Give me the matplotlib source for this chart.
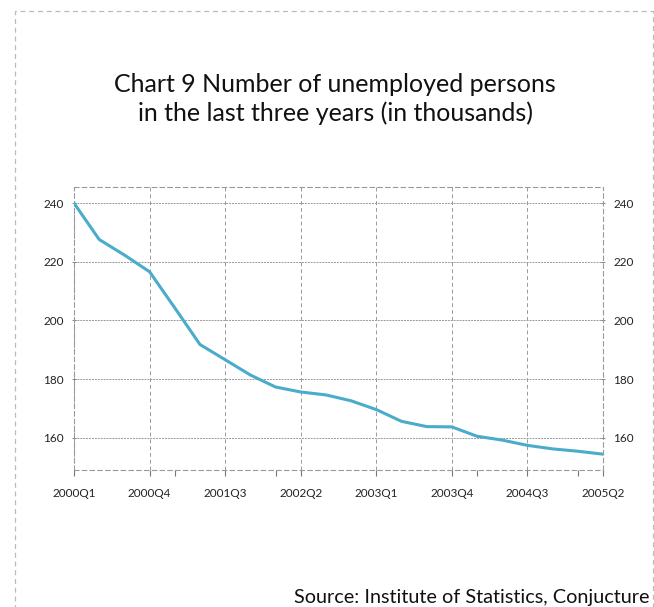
import matplotlib.pyplot as plt
from matplotlib.patches import Rectangle

quarters = ['2000Q1', '2000Q2', '2000Q3', '2000Q4', '2001Q1', '2001Q2', '2001Q3', '2001Q4',
            '2002Q1', '2002Q2', '2002Q3', '2002Q4', '2003Q1', '2003Q2', '2003Q3', '2003Q4',
            '2004Q1', '2004Q2', '2004Q3', '2004Q4', '2005Q1', '2005Q2']
unemployed = [240.0, 227.6, 222.3, 216.6, 204.3, 191.8, 186.6, 181.4, 177.3, 175.6, 174.6,
              172.6, 169.6, 165.6, 163.8, 163.7, 160.5, 159.2, 157.4, 156.2, 155.4, 154.4]
y_ticks = [160, 180, 200, 220, 240]

font = 'Lato'

fig = plt.figure(figsize=(6.54, 6.07), dpi=100)
fig.patches.append(Rectangle((15 / 654, -0.01), 638 / 654, 1 - 11 / 607 + 0.01,
                             transform=fig.transFigure, fill=False,
                             edgecolor='#bbbbbb', linestyle=(0, (4, 3)), linewidth=0.9))

ax = fig.add_axes([74 / 654, 1 - 470 / 607, 529 / 654, 283 / 607])
x = list(range(len(quarters)))
ax.plot(x, unemployed, color='#4aaccb', linewidth=2.2, zorder=3)

ax.set_xlim(0, len(quarters) - 1)
ax.set_ylim(149, 245.5)
ax.set_xticks(x[::3])
ax.set_xticklabels(quarters[::3], fontsize=8.5, family=font, color='#222222')
ax.set_xticks([4, 8, 16, 20], minor=True)
ax.set_yticks(y_ticks)
ax.set_yticklabels([str(v) for v in y_ticks], fontsize=8.5, family=font, color='#222222')
ax.tick_params(axis='x', which='major', length=4, width=0.8, color='#777777', pad=9)
ax.tick_params(axis='x', which='minor', length=4, width=0.8, color='#777777')
ax.tick_params(axis='y', length=3, width=0.6, color='#777777', labelright=True, right=True,
               direction='inout', pad=6)

ax.grid(axis='x', color='#999999', linestyle=(0, (4, 3)), linewidth=0.7)
ax.grid(axis='y', color='#999999', linestyle=(0, (2, 1)), linewidth=0.7)
for s in ax.spines.values():
    s.set_linestyle((0, (4, 3)))
    s.set_color('#999999')
    s.set_linewidth(0.8)

fig.text(335 / 654, 1 - 99 / 607, 'Chart 9 Number of unemployed persons\nin the last three years (in thousands)',
         ha='center', va='center', fontsize=18, family=font, linespacing=1.3, color='#111111')
fig.text(650 / 654, 1 - 598 / 607, 'Source: Institute of Statistics, Conjucture',
         ha='right', va='center', fontsize=14.3, family=font, color='#111111')

fig.savefig('out.png', dpi=100)
